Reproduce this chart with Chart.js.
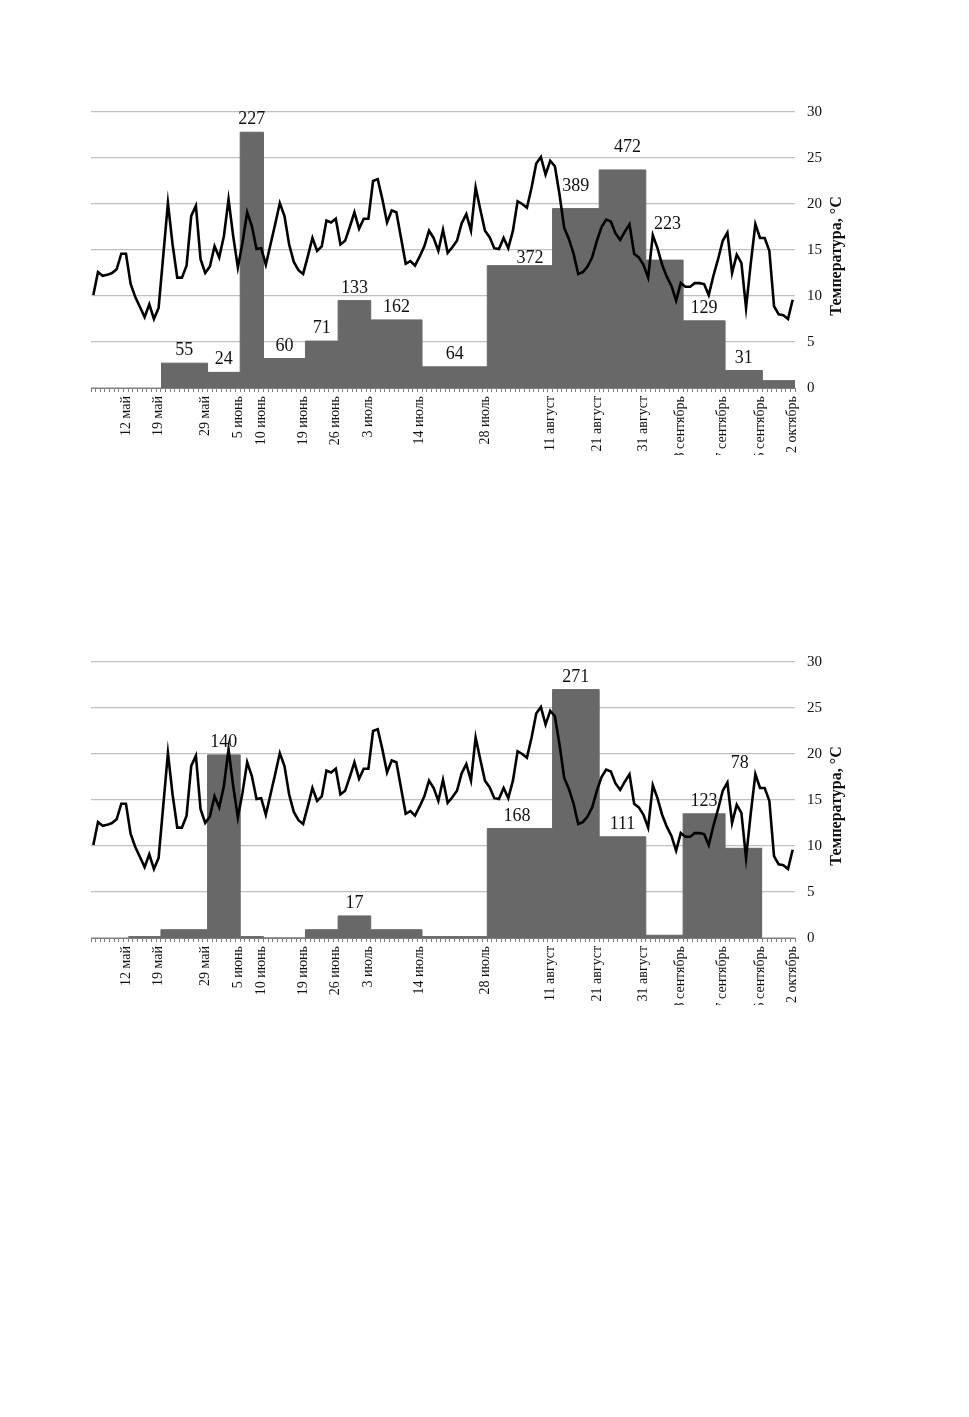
<!DOCTYPE html>
<html lang="ru">
<head>
<meta charset="utf-8">
<title>Температура и численность</title>
<script src="https://cdn.jsdelivr.net/npm/chart.js@4.4.1/dist/chart.umd.min.js"></script>
<style>
  html, body { margin: 0; padding: 0; background: #fff; }
  body { width: 969px; height: 1417px; position: relative; overflow: hidden; }
  .clip { position: absolute; left: 0; width: 969px; height: 365px; overflow: hidden; }
  .box { position: relative; width: 969px; height: 398px; }
</style>
</head>
<body>
<div class="clip" style="top:90px"><div class="box"><canvas id="chartTop"></canvas></div></div>
<div class="clip" style="top:640px"><div class="box"><canvas id="chartBottom"></canvas></div></div>

<script>
// дни: с 5 мая по 2 октября
const monthNames = ["май", "июнь", "июль", "август", "сентябрь", "октябрь"];
const monthDays = [31, 30, 31, 31, 30, 31];
const firstDay = 5;

// среднесуточная температура, °С
const temperature = [
  10.1, 12.6, 12.2, 12.3, 12.5, 12.9, 14.6, 14.6, 11.3, 9.9,
  8.8, 7.7, 9.1, 7.5, 8.7, 14.4, 20.1, 15.6, 12.0, 12.0,
  13.3, 18.7, 19.8, 14.0, 12.5, 13.2, 15.4, 14.2, 16.5, 20.5,
  16.5, 13.1, 15.8, 19.1, 17.6, 15.1, 15.2, 13.4, 15.6, 17.8,
  20.1, 18.7, 15.6, 13.7, 12.8, 12.4, 14.3, 16.3, 14.9, 15.4,
  18.2, 18.0, 18.4, 15.6, 16.0, 17.5, 19.1, 17.3, 18.4, 18.4,
  22.5, 22.7, 20.5, 18.0, 19.3, 19.1, 16.3, 13.5, 13.8, 13.3,
  14.3, 15.4, 17.1, 16.3, 14.9, 17.2, 14.7, 15.3, 16.0, 17.9,
  18.9, 17.1, 21.8, 19.4, 17.1, 16.4, 15.2, 15.1, 16.3, 15.2,
  17.1, 20.3, 20.0, 19.6, 21.8, 24.4, 25.1, 23.2, 24.7, 24.1,
  21.0, 17.4, 16.2, 14.6, 12.4, 12.6, 13.2, 14.2, 16.0, 17.5,
  18.3, 18.1, 16.8, 16.1, 17.0, 17.8, 14.6, 14.2, 13.4, 12.0,
  16.6, 15.2, 13.4, 12.1, 11.1, 9.5, 11.4, 11.0, 11.0, 11.4,
  11.4, 11.3, 10.1, 12.2, 14.0, 16.0, 16.9, 12.5, 14.5, 13.6,
  8.7, 13.5, 17.8, 16.3, 16.3, 14.9, 8.9, 8.0, 7.9, 7.5,
  9.6
];

// подписи оси X
const tickLabels = ["12 май", "19 май", "29 май", "5 июнь", "10 июнь", "19 июнь", "26 июнь",
  "3 июль", "14 июль", "28 июль", "11 август", "21 август", "31 август",
  "8 сентябрь", "17 сентябрь", "25 сентябрь", "2 октябрь"];

// верхний график: границы периодов, высота столбцов, подписи
const topBounds = ["19 май", "29 май", "5 июнь", "10 июнь", "19 июнь", "26 июнь", "3 июль",
  "14 июль", "28 июль", "11 август", "21 август", "31 август", "8 сентябрь",
  "17 сентябрь", "25 сентябрь", "2 октябрь"];
const topHeights = [2.7, 1.7, 27.8, 3.2, 5.1, 9.5, 7.4, 2.3, 13.3, 19.5, 23.7, 13.9, 7.3, 1.9, 0.8];
const topCounts = [55, 24, 227, 60, 71, 133, 162, 64, 372, 389, 472, 223, 129, 31, null];

// нижний график
const botBounds = ["12 май", "19 май", "29 май", "5 июнь", "10 июнь", "19 июнь", "26 июнь",
  "3 июль", "14 июль", "28 июль", "11 август", "21 август", "31 август",
  "8 сентябрь", "17 сентябрь", "25 сентябрь"];
const botHeights = [0.15, 0.9, 19.9, 0.15, 0, 0.9, 2.4, 0.9, 0.15, 11.9, 27.0, 11.0, 0.3, 13.5, 9.75];
const botCounts = [null, null, 140, null, null, null, 17, null, null, 168, 271, 111, null, 123, 78];

// список дней
let days = [];
let m = 0, d = firstDay;
for (let i = 0; i < temperature.length; i++) {
    days.push(d + " " + monthNames[m]);
    d++;
    if (d > monthDays[m]) { d = 1; m++; }
}

const serif = "'Liberation Serif', 'Times New Roman', serif";

// подписи над столбцами
const periodLabels = {
    id: "periodLabels",
    afterDatasetsDraw(chart, args, opts) {
        const ctx = chart.ctx;
        const xs = chart.scales.xb;
        const ys = chart.scales.yb;
        ctx.save();
        ctx.font = "18px " + serif;
        ctx.fillStyle = "#111";
        ctx.textAlign = "center";
        ctx.textBaseline = "alphabetic";
        opts.counts.forEach((c, k) => {
            if (c == null) return;
            const a = days.indexOf(opts.bounds[k]);
            const b = days.indexOf(opts.bounds[k + 1]);
            const nud = opts.nudges[c] || [0, 0];
            const x = xs.getPixelForValue((a + b) / 2 + 0.5) + nud[0];
            const y = ys.getPixelForValue(opts.heights[k]) - 8 + nud[1];
            ctx.fillText(String(c), x, y);
        });
        ctx.restore();
    }
};

// заголовок правой оси (снизу вверх)
const rightTitle = {
    id: "rightTitle",
    afterDraw(chart) {
        const ctx = chart.ctx;
        const area = chart.chartArea;
        ctx.save();
        ctx.translate(area.right + 42, (area.top + area.bottom) / 2 + 6);
        ctx.rotate(-Math.PI / 2);
        ctx.font = "bold 16px " + serif;
        ctx.fillStyle = "#111";
        ctx.textAlign = "center";
        ctx.textBaseline = "middle";
        ctx.fillText("Температура, °С", 0, 0);
        ctx.restore();
    }
};

function blockPoints(bounds, heights) {
    let pts = [];
    heights.forEach((h, k) => {
        pts.push({ x: days.indexOf(bounds[k]) + 0.5, y: h });
    });
    pts.push({ x: days.indexOf(bounds[bounds.length - 1]) + 0.5, y: heights[heights.length - 1] });
    return pts;
}

function makeChart(id, bounds, heights, counts, nudges) {
    return new Chart(document.getElementById(id).getContext("2d"), {
        type: "line",
        data: {
            labels: days,
            datasets: [{
                label: "Температура",
                data: temperature,
                borderColor: "#000",
                borderWidth: 2.6,
                pointRadius: 0,
                tension: 0,
                fill: false,
                order: 0,
                xAxisID: "x",
                yAxisID: "y"
            }, {
                label: "Численность",
                data: blockPoints(bounds, heights),
                stepped: true,
                borderColor: "#686868",
                borderWidth: 1,
                backgroundColor: "#686868",
                pointRadius: 0,
                fill: "origin",
                order: 1,
                xAxisID: "xb",
                yAxisID: "yb"
            }]
        },
        options: {
            responsive: true,
            maintainAspectRatio: false,
            animation: false,
            events: [],
            layout: { padding: { left: 91, right: 114, top: 22, bottom: 0 } },
            plugins: {
                legend: { display: false },
                tooltip: { enabled: false },
                periodLabels: { bounds: bounds, heights: heights, counts: counts, nudges: nudges }
            },
            scales: {
                x: {
                    type: "category",
                    position: "bottom",
                    offset: true,
                    afterFit: (scale) => { scale.height = 100; },
                    grid: {
                        offset: true,
                        drawOnChartArea: false,
                        drawTicks: true,
                        tickLength: 4,
                        color: "#808080"
                    },
                    border: { display: true, color: "#808080", width: 1 },
                    ticks: {
                        autoSkip: false,
                        maxRotation: 90,
                        minRotation: 90,
                        padding: 4,
                        color: "#111",
                        font: { family: serif, size: 14 },
                        callback: function (value) {
                            const lab = this.getLabelForValue(value);
                            return tickLabels.includes(lab) ? lab : "";
                        }
                    }
                },
                xb: { type: "linear", display: false, min: -0.5, max: days.length - 0.5 },
                y: {
                    position: "right",
                    min: 0,
                    max: 30,
                    afterFit: (scale) => { scale.width = 60; },
                    grid: { color: "#bfbfbf", lineWidth: 1.3, drawTicks: false },
                    border: { display: false },
                    ticks: {
                        stepSize: 5,
                        padding: 12,
                        color: "#111",
                        font: { family: serif, size: 15 }
                    }
                },
                yb: { type: "linear", display: false, min: 0, max: 30 }
            }
        },
        plugins: [periodLabels, rightTitle]
    });
}

makeChart("chartTop", topBounds, topHeights, topCounts,
    { 372: [10, 5], 389: [0, -10], 472: [5, -10], 223: [3, -23] });
makeChart("chartBottom", botBounds, botHeights, botCounts,
    { 168: [-3, 0], 78: [-4, -72] });
</script>
</body>
</html>
